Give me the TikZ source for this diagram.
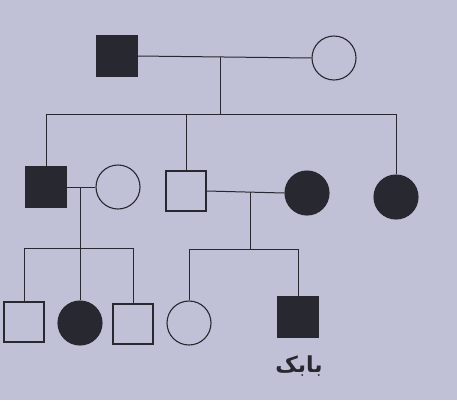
\documentclass[tikz,border=0pt]{standalone}
\usepackage{fontspec}
\newfontfamily\arabicfont[Script=Arabic]{DejaVu Sans}
\TeXXeTstate=1
\definecolor{bg}{RGB}{192,192,214}
\definecolor{ink}{RGB}{40,40,48}
\begin{document}
\begin{tikzpicture}[x=1pt,y=-1pt,
  male/.style={draw=ink, line width=1.1pt, rectangle, minimum size=40pt, inner sep=0pt},
  female/.style={draw=ink, line width=1.1pt, circle, minimum size=44pt, inner sep=0pt},
  affected/.style={fill=ink},
  link/.style={draw=ink, line width=1pt}]
\fill[bg] (0,0) rectangle (457,400);
\useasboundingbox (0,0) rectangle (457,400);
% generation I
\node[male,affected] (I1) at (117,56) {};
\node[female] (I2) at (334,58) {};
\coordinate (m1) at (220,57);
\coordinate (s1) at (220,114);
% generation II
\node[male,affected] (II1) at (46,187) {};
\node[female] (II2) at (118,187) {};
\node[male] (II3) at (186,191) {};
\node[female,affected] (II4) at (307,193) {};
\node[female,affected] (II5) at (396,197) {};
\coordinate (m2) at (80,187);
\coordinate (s2) at (80,248);
\coordinate (m3) at (250,192);
\coordinate (s3) at (250,249);
% generation III
\node[male] (III1) at (24,322) {};
\node[female,affected] (III2) at (80,323) {};
\node[male] (III3) at (133,324) {};
\node[female] (III4) at (189,323) {};
\node[male,affected] (III5) at (298,317) {};
\node[font=\arabicfont\bfseries\fontsize{22}{26}\selectfont, text=ink] (lbl) at (299,366) {\beginR بابک\endR};
% connectors
\draw[link] (I1.east) -- (I2.west);
\draw[link] (m1) -- (s1);
\draw[link] (II1.north |- s1) -- (II5.north |- s1);
\draw[link] (II1.north |- s1) -- (II1.north);
\draw[link] (II3.north |- s1) -- (II3.north);
\draw[link] (II5.north |- s1) -- (II5.north);
\draw[link] (II1.east) -- (II2.west);
\draw[link] (m2) -- (III2.north);
\draw[link] (III1.north |- s2) -- (III3.north |- s2);
\draw[link] (III1.north |- s2) -- (III1.north);
\draw[link] (III3.north |- s2) -- (III3.north);
\draw[link] (II3.east) -- (II4.west);
\draw[link] (m3) -- (s3);
\draw[link] (III4.north |- s3) -- (III5.north |- s3);
\draw[link] (III4.north |- s3) -- (III4.north);
\draw[link] (III5.north |- s3) -- (III5.north);
\end{tikzpicture}
\end{document}
